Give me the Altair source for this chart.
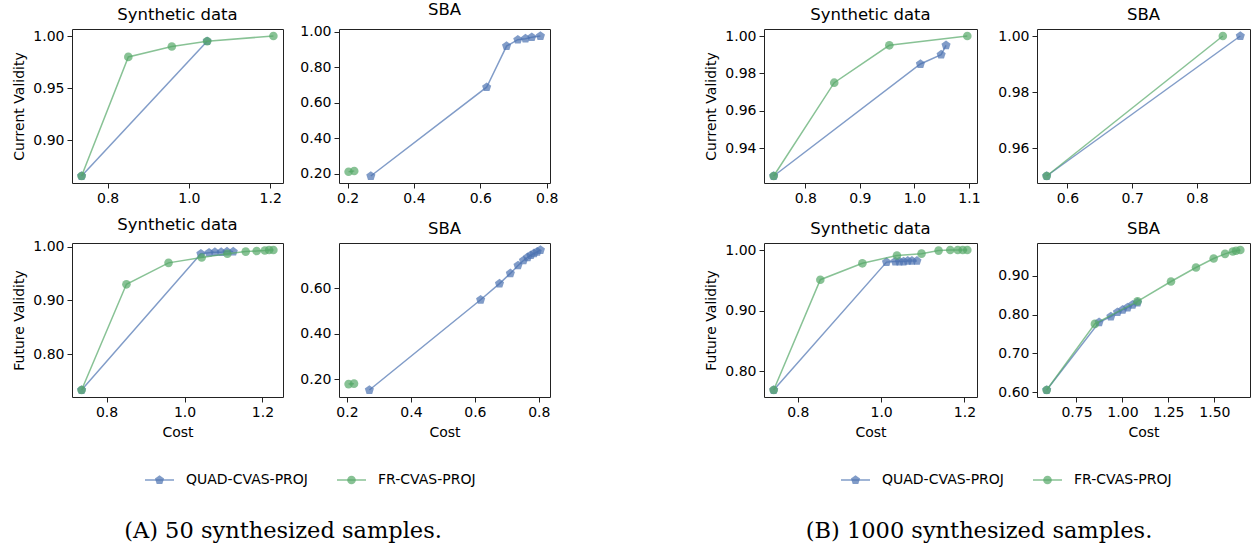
import altair as alt
import pandas as pd

# Series names and colours (seaborn "deep" blue / green)
METHODS = ["QUAD-CVAS-PROJ", "FR-CVAS-PROJ"]
COLORS = ["#4C72B0", "#55A868"]
PENTAGON = "M0,-1L0.951,-0.309L0.588,0.809L-0.588,0.809L-0.951,-0.309Z"
SHAPES = [PENTAGON, "circle"]
SIZES = [92, 74]

# ---------------- (a) 50 synthesized samples ----------------
# Synthetic data, current validity
a_syn_cur_quad_cost = [0.736, 1.045]
a_syn_cur_quad_val = [0.866, 0.995]
a_syn_cur_fr_cost = [0.736, 0.851, 0.958, 1.045, 1.208]
a_syn_cur_fr_val = [0.866, 0.980, 0.990, 0.995, 1.000]
# SBA, current validity
a_sba_cur_quad_cost = [0.270, 0.619, 0.679, 0.713, 0.736, 0.755, 0.781]
a_sba_cur_quad_val = [0.187, 0.688, 0.920, 0.956, 0.962, 0.970, 0.977]
a_sba_cur_fr_cost = [0.203, 0.220]
a_sba_cur_fr_val = [0.211, 0.215]
# Synthetic data, future validity
a_syn_fut_quad_cost = [0.736, 1.042, 1.063, 1.078, 1.094, 1.109, 1.125]
a_syn_fut_quad_val = [0.733, 0.987, 0.989, 0.990, 0.990, 0.991, 0.991]
a_syn_fut_fr_cost = [0.736, 0.851, 0.959, 1.044, 1.110, 1.157, 1.185, 1.206, 1.217, 1.228]
a_syn_fut_fr_val = [0.733, 0.930, 0.970, 0.980, 0.987, 0.991, 0.992, 0.993, 0.994, 0.994]
# SBA, future validity
a_sba_fut_quad_cost = [0.270, 0.618, 0.677, 0.711, 0.735, 0.752, 0.765, 0.775, 0.785, 0.795, 0.805]
a_sba_fut_quad_val = [0.152, 0.549, 0.620, 0.665, 0.700, 0.722, 0.736, 0.745, 0.753, 0.760, 0.768]
a_sba_fut_fr_cost = [0.205, 0.222]
a_sba_fut_fr_val = [0.178, 0.180]

# ---------------- (b) 1000 synthesized samples ----------------
b_syn_cur_quad_cost = [0.742, 1.011, 1.049, 1.058]
b_syn_cur_quad_val = [0.925, 0.985, 0.990, 0.995]
b_syn_cur_fr_cost = [0.742, 0.853, 0.954, 1.097]
b_syn_cur_fr_val = [0.925, 0.975, 0.995, 1.000]

b_sba_cur_quad_cost = [0.568, 0.867]
b_sba_cur_quad_val = [0.950, 1.000]
b_sba_cur_fr_cost = [0.568, 0.840]
b_sba_cur_fr_val = [0.950, 1.000]

b_syn_fut_quad_cost = [0.742, 1.013, 1.034, 1.044, 1.054, 1.064, 1.074, 1.086]
b_syn_fut_quad_val = [0.769, 0.980, 0.981, 0.981, 0.981, 0.982, 0.982, 0.982]
b_syn_fut_fr_cost = [0.742, 0.854, 0.955, 1.038, 1.097, 1.138, 1.166, 1.184, 1.196, 1.207]
b_syn_fut_fr_val = [0.769, 0.951, 0.978, 0.991, 0.994, 0.999, 1.000, 1.000, 1.000, 1.000]

b_sba_fut_quad_cost = [0.588, 0.873, 0.937, 0.973, 1.001, 1.028, 1.055, 1.082]
b_sba_fut_quad_val = [0.606, 0.780, 0.795, 0.806, 0.812, 0.818, 0.825, 0.831]
b_sba_fut_fr_cost = [0.588, 0.850, 1.082, 1.264, 1.400, 1.496, 1.558, 1.600, 1.618, 1.641]
b_sba_fut_fr_val = [0.606, 0.776, 0.834, 0.885, 0.921, 0.944, 0.956, 0.962, 0.964, 0.966]

CAPTIONS = ["(A) 50 synthesized samples.", "(B) 1000 synthesized samples."]

PANEL_H = 154
FONT = "DejaVu Sans"
WA, WB = 211, 213          # panel widths of the two sub-figures
GAP_A, GAP_B = 56, 60      # gap between the two columns of a sub-figure
GROUP_GAP = 214            # gap between the sub-figures
ROW_GAP = 60
FOOTER_H = 90
MARGIN_LEFT, MARGIN_TOP = 71, 28


def padded(values):
    # 5% margin on each side of the data range
    lo, hi = min(values), max(values)
    m = 0.05 * (hi - lo)
    return [lo - m, hi + m]


def panel(series, xticks, yticks, xfmt, yfmt, title, width, ytitle=None, xtitle=None):
    all_x = [v for s in series for v in s[0]]
    all_y = [v for s in series for v in s[1]]
    xs = alt.Scale(domain=padded(all_x), nice=False, zero=False)
    ys = alt.Scale(domain=padded(all_y), nice=False, zero=False)
    xax = alt.Axis(values=xticks, format=xfmt)
    yax = alt.Axis(values=yticks, format=yfmt)
    layers = []
    for i, (cx, cy) in enumerate(series):
        df = pd.DataFrame({"cost": cx, "validity": cy, "method": METHODS[i]})
        if xtitle:
            xenc = alt.X("cost:Q", scale=xs, axis=xax, title=xtitle)
        else:
            xenc = alt.X("cost:Q", scale=xs, axis=xax, title=None)
        if ytitle:
            yenc = alt.Y("validity:Q", scale=ys, axis=yax, title=ytitle)
        else:
            yenc = alt.Y("validity:Q", scale=ys, axis=yax, title=None)
        base = alt.Chart(df).encode(x=xenc, y=yenc)
        layers.append(base.mark_line(color=COLORS[i], strokeWidth=1.5, opacity=0.7))
        layers.append(
            base.mark_point(shape=SHAPES[i], filled=True, color=COLORS[i], opacity=0.7,
                            size=SIZES[i], strokeWidth=0)
        )
    return alt.layer(*layers).properties(
        width=width,
        height=PANEL_H,
        title=alt.TitleParams(title, fontSize=16.5, font=FONT, fontWeight="normal",
                              offset=6, color="black", frame="group"),
    )


def spacer(width):
    return (
        alt.Chart(pd.DataFrame({"k": [0]}))
        .mark_point(opacity=0)
        .encode(x=alt.value(0), y=alt.value(0))
        .properties(width=width, height=PANEL_H, view=alt.ViewBackground(stroke="transparent"))
    )


LEGEND_OFFSETS = [-166, 26]     # legend entries, relative to the centre of a sub-figure
CAPTION_OFFSET = -28


def footer():
    group_lefts = [0, WA + GAP_A + WA + GROUP_GAP]
    group_widths = [2 * WA + GAP_A, 2 * WB + GAP_B]
    footer_top = 2 * PANEL_H + 2 * ROW_GAP
    layers = [
        # pins the top-left corner of the whole figure
        alt.Chart(pd.DataFrame({"k": [0]}))
        .mark_rule(strokeOpacity=0, strokeWidth=0)
        .encode(x=alt.value(-MARGIN_LEFT), x2=alt.value(-MARGIN_LEFT),
                y=alt.value(-footer_top - MARGIN_TOP), y2=alt.value(-footer_top - MARGIN_TOP))
    ]
    for g in range(2):
        center = group_lefts[g] + group_widths[g] / 2
        for i, name in enumerate(METHODS):
            x0 = center + LEGEND_OFFSETS[i]
            d = pd.DataFrame({"method": [name]})
            layers.append(
                alt.Chart(d).mark_rule(color=COLORS[i], strokeWidth=1.5, opacity=0.7)
                .encode(x=alt.value(x0), x2=alt.value(x0 + 29), y=alt.value(23))
            )
            layers.append(
                alt.Chart(d).mark_point(shape=SHAPES[i], filled=True, color=COLORS[i],
                                        opacity=0.7, size=SIZES[i], strokeWidth=0)
                .encode(x=alt.value(x0 + 14.5), y=alt.value(23))
            )
            layers.append(
                alt.Chart(d).mark_text(align="left", baseline="middle", font=FONT, fontSize=14,
                                       color="black")
                .encode(x=alt.value(x0 + 41), y=alt.value(23), text="method:N")
            )
        layers.append(
            alt.Chart(pd.DataFrame({"caption": [CAPTIONS[g]]}))
            .mark_text(align="center", baseline="alphabetic", font="DejaVu Serif", fontSize=22.5,
                       color="black")
            .encode(x=alt.value(center + CAPTION_OFFSET), y=alt.value(81), text="caption:N")
        )
    return alt.layer(*layers).properties(
        width=WA, height=FOOTER_H, view=alt.ViewBackground(stroke="transparent")
    )


# ---- sub-figure (a)
a1 = panel([(a_syn_cur_quad_cost, a_syn_cur_quad_val), (a_syn_cur_fr_cost, a_syn_cur_fr_val)],
           [0.8, 1.0, 1.2], [0.90, 0.95, 1.00], ".1f", ".2f", "Synthetic data", WA,
           ytitle="Current Validity")
a2 = panel([(a_sba_cur_quad_cost, a_sba_cur_quad_val), (a_sba_cur_fr_cost, a_sba_cur_fr_val)],
           [0.2, 0.4, 0.6, 0.8], [0.2, 0.4, 0.6, 0.8, 1.0], ".1f", ".2f", "SBA", WA)
a3 = panel([(a_syn_fut_quad_cost, a_syn_fut_quad_val), (a_syn_fut_fr_cost, a_syn_fut_fr_val)],
           [0.8, 1.0, 1.2], [0.8, 0.9, 1.0], ".1f", ".2f", "Synthetic data", WA,
           ytitle="Future Validity", xtitle="Cost")
a4 = panel([(a_sba_fut_quad_cost, a_sba_fut_quad_val), (a_sba_fut_fr_cost, a_sba_fut_fr_val)],
           [0.2, 0.4, 0.6, 0.8], [0.2, 0.4, 0.6], ".1f", ".2f", "SBA", WA, xtitle="Cost")

# ---- sub-figure (b)
b1 = panel([(b_syn_cur_quad_cost, b_syn_cur_quad_val), (b_syn_cur_fr_cost, b_syn_cur_fr_val)],
           [0.8, 0.9, 1.0, 1.1], [0.94, 0.96, 0.98, 1.00], ".1f", ".2f", "Synthetic data", WB,
           ytitle="Current Validity")
b2 = panel([(b_sba_cur_quad_cost, b_sba_cur_quad_val), (b_sba_cur_fr_cost, b_sba_cur_fr_val)],
           [0.6, 0.7, 0.8], [0.96, 0.98, 1.00], ".1f", ".2f", "SBA", WB)
b3 = panel([(b_syn_fut_quad_cost, b_syn_fut_quad_val), (b_syn_fut_fr_cost, b_syn_fut_fr_val)],
           [0.8, 1.0, 1.2], [0.8, 0.9, 1.0], ".1f", ".2f", "Synthetic data", WB,
           ytitle="Future Validity", xtitle="Cost")
b4 = panel([(b_sba_fut_quad_cost, b_sba_fut_quad_val), (b_sba_fut_fr_cost, b_sba_fut_fr_val)],
           [0.75, 1.0, 1.25, 1.5], [0.6, 0.7, 0.8, 0.9], ".2f", ".2f", "SBA", WB, xtitle="Cost")

cells = [
    a1, spacer(GAP_A), a2, spacer(GROUP_GAP), b1, spacer(GAP_B), b2,
    a3, spacer(GAP_A), a4, spacer(GROUP_GAP), b3, spacer(GAP_B), b4,
    footer(),
]

chart = (
    alt.concat(*cells, columns=7, spacing={"row": ROW_GAP, "column": 0}, bounds="flush")
    .properties(padding=0, background="white")
    .configure_view(stroke="#222222", strokeWidth=1)
    .configure_axis(
        grid=False, domain=False,
        labelFont=FONT, labelFontSize=14, labelColor="black",
        labelFlush=False, labelOverlap=False, labelBound=False, labelPadding=3,
        tickColor="#222222", tickSize=5, tickWidth=1,
        titleFont=FONT, titleFontSize=14, titleFontWeight="normal", titleColor="black",
        titlePadding=6,
    )
)

chart.save("out.html", embed_options={"renderer": "svg", "actions": False})
